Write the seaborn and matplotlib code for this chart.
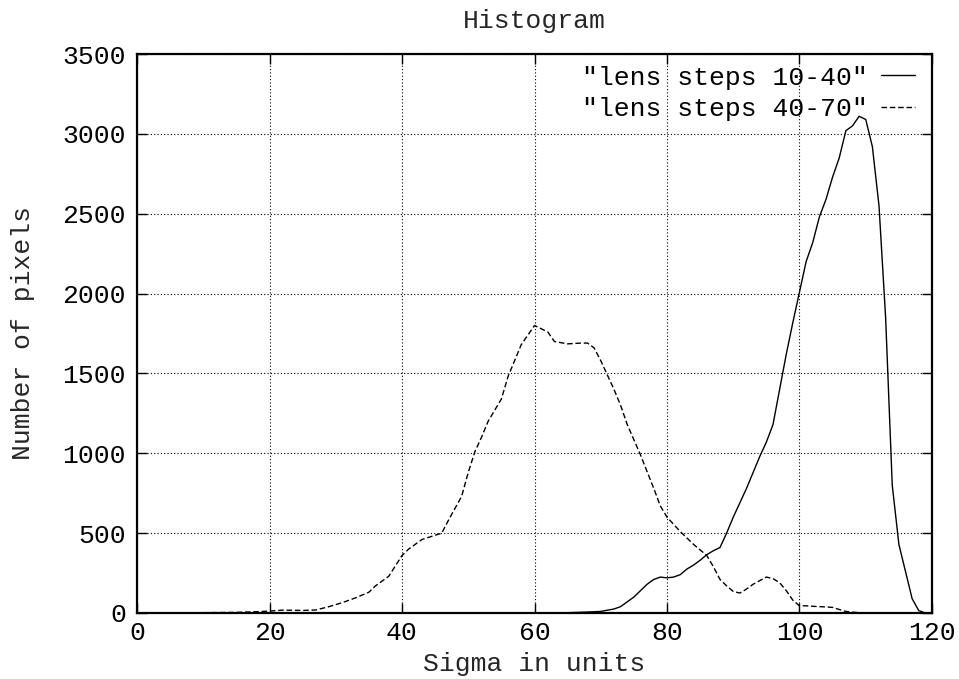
import matplotlib
matplotlib.use("Agg")
import matplotlib.pyplot as plt
import seaborn as sns
import pandas as pd

# Sigma bins and pixel counts for the two lens step ranges
sigma_10_40 = [60, 65, 68, 70, 72, 73, 74, 75, 76, 77, 78, 79, 80, 81, 82, 83, 84, 85,
               86, 87, 88, 89, 90, 91, 92, 93, 94, 95, 96, 97, 98, 99, 100, 101, 102,
               103, 104, 105, 106, 107, 108, 109, 110, 111, 112, 113, 114, 115, 116,
               117, 118, 119, 120]
count_10_40 = [0, 2, 6, 10, 25, 40, 70, 100, 140, 180, 210, 225, 220, 225, 240, 275, 300,
               330, 365, 390, 410, 500, 600, 690, 780, 880, 980, 1070, 1180, 1400, 1620,
               1820, 2010, 2200, 2320, 2480, 2590, 2730, 2850, 3020, 3050, 3110, 3090,
               2920, 2550, 1850, 800, 430, 260, 90, 15, 0, 0]

sigma_40_70 = [10, 15, 18, 20, 22, 25, 27, 29, 31, 33, 35, 36, 38, 40, 41, 43, 46, 47, 49,
               50, 51, 52, 53, 55, 56, 58, 60, 61, 62, 63, 65, 67, 68, 69, 70, 72, 73, 74,
               76, 78, 79, 80, 82, 84, 86, 87, 88, 89, 90, 91, 92, 93, 95, 96, 97, 98, 99,
               100, 101, 102, 104, 105, 106, 107, 108, 110]
count_40_70 = [2, 4, 8, 12, 18, 16, 19, 40, 65, 95, 130, 170, 230, 360, 400, 460, 500, 580,
               730, 880, 1010, 1100, 1200, 1340, 1480, 1680, 1800, 1780, 1760, 1700, 1685,
               1690, 1690, 1660, 1580, 1400, 1300, 1180, 990, 780, 670, 600, 510, 430, 360,
               290, 210, 170, 135, 125, 150, 180, 225, 215, 190, 140, 80, 45, 45, 42, 38,
               35, 22, 10, 5, 0]

series_labels = ['"lens steps 10-40"', '"lens steps 40-70"']
x_ticks = [0, 20, 40, 60, 80, 100, 120]
y_ticks = [0, 500, 1000, 1500, 2000, 2500, 3000, 3500]

FS = 19

sns.set_style("ticks")
plt.rcParams["font.family"] = ["Liberation Mono", "DejaVu Sans Mono"]
plt.rcParams["font.size"] = FS

fig = plt.figure(figsize=(9.59, 6.79), dpi=100)
ax = fig.add_axes([137 / 959, 1 - 613 / 679, (932 - 137) / 959, (613 - 54) / 679])

df_a = pd.DataFrame({"sigma": sigma_10_40, "count": count_10_40})
df_b = pd.DataFrame({"sigma": sigma_40_70, "count": count_40_70})

sns.lineplot(data=df_a, x="sigma", y="count", ax=ax, color="black", lw=1.0,
             label=series_labels[0], estimator=None)
sns.lineplot(data=df_b, x="sigma", y="count", ax=ax, color="black", lw=1.0,
             linestyle=(0, (4, 2)), label=series_labels[1], estimator=None)

ax.set_xlim(0, 120)
ax.set_ylim(0, 3500)
ax.set_xticks(x_ticks)
ax.set_yticks(y_ticks)
ax.set_xticklabels([str(v) for v in x_ticks])
ax.set_yticklabels([str(v) for v in y_ticks])

ax.grid(True, color="black", linestyle=(0, (1, 2)), linewidth=0.8)
ax.set_axisbelow(True)
for side in ["top", "right", "bottom", "left"]:
    ax.spines[side].set_visible(True)
    ax.spines[side].set_color("black")
    ax.spines[side].set_linewidth(1.6)

ax.tick_params(axis="both", which="major", direction="in", length=7, width=1.0,
               top=True, right=True, labelsize=FS, colors="black")
ax.tick_params(axis="y", pad=8)
ax.tick_params(axis="x", pad=6)

ax.set_title("Histogram", fontsize=FS, pad=19)
ax.set_xlabel("Sigma in units", fontsize=FS, labelpad=5)
ax.set_ylabel("Number of pixels", fontsize=FS, labelpad=20)

leg = ax.legend(loc="upper right", bbox_to_anchor=(1 - 6 / 795, 1 - 1 / 559),
                frameon=False, markerfirst=False, handlelength=1.3,
                handletextpad=0.5, labelspacing=0.28, borderaxespad=0.0, fontsize=FS)
for t in leg.get_texts():
    t.set_color("black")

fig.savefig("out.png", dpi=100)
